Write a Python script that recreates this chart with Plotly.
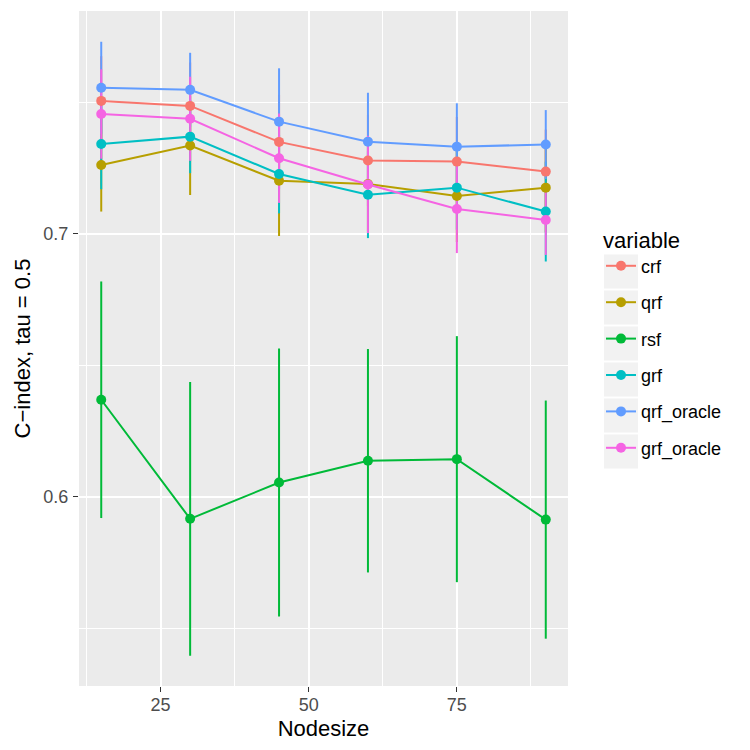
import plotly.graph_objects as go

nodesize = [15, 30, 45, 60, 75, 90]
methods = ["crf", "qrf", "rsf", "grf", "qrf_oracle", "grf_oracle"]
colors = ["#F8766D", "#B79F00", "#00BA38", "#00BFC4", "#619CFF", "#F564E3"]

crf_mean = [0.7506, 0.7487, 0.7350, 0.7279, 0.7275, 0.7237]
crf_sd = [0.0170, 0.0165, 0.0180, 0.0175, 0.0170, 0.0160]
qrf_mean = [0.7262, 0.7336, 0.7202, 0.7190, 0.7144, 0.7176]
qrf_sd = [0.0177, 0.0188, 0.0210, 0.0180, 0.0175, 0.0170]
rsf_mean = [0.6369, 0.5916, 0.6054, 0.6137, 0.6143, 0.5913]
rsf_sd = [0.0450, 0.0521, 0.0510, 0.0425, 0.0468, 0.0453]
grf_mean = [0.7342, 0.7370, 0.7228, 0.7149, 0.7176, 0.7085]
grf_sd = [0.0172, 0.0139, 0.0150, 0.0165, 0.0160, 0.0190]
qrf_oracle_mean = [0.7556, 0.7548, 0.7427, 0.7351, 0.7332, 0.7340]
qrf_oracle_sd = [0.0175, 0.0141, 0.0203, 0.0186, 0.0165, 0.0131]
grf_oracle_mean = [0.7456, 0.7438, 0.7288, 0.7188, 0.7095, 0.7053]
grf_oracle_sd = [0.0170, 0.0160, 0.0170, 0.0185, 0.0168, 0.0133]

means = [crf_mean, qrf_mean, rsf_mean, grf_mean, qrf_oracle_mean, grf_oracle_mean]
sds = [crf_sd, qrf_sd, rsf_sd, grf_sd, qrf_oracle_sd, grf_oracle_sd]

fig = go.Figure()

# error bars first (drawn below lines and points)
for m, c, mu, sd in zip(methods, colors, means, sds):
    fig.add_trace(go.Scatter(
        x=nodesize, y=mu, mode="markers",
        marker=dict(size=1, opacity=0, color=c),
        error_y=dict(type="data", array=sd, visible=True, color=c,
                     thickness=2, width=0),
        showlegend=False, hoverinfo="skip"))

for m, c, mu in zip(methods, colors, means):
    fig.add_trace(go.Scatter(
        x=nodesize, y=mu, mode="lines+markers", name=m, legendgroup=m,
        line=dict(color=c, width=2),
        marker=dict(color=c, size=10)))

W, H = 750, 750
L, R, T, B = 79, 568, 11, 686

def py(v):
    return (B - v) / (B - T)

def px(v):
    return (v - L) / (R - L)

shapes = []
for i in range(6):
    cy = 271.5 + 36 * i
    shapes.append(dict(type="rect", xref="paper", yref="paper",
                       x0=px(604), x1=px(638), y0=py(cy + 17), y1=py(cy - 17),
                       fillcolor="#F2F2F2", line=dict(width=0), layer="below"))

fig.update_layout(
    width=W, height=H,
    margin=dict(l=L, r=W - R, t=T, b=H - B, autoexpand=False),
    paper_bgcolor="white",
    plot_bgcolor="#EBEBEB",
    font=dict(family="Liberation Sans, Arial, sans-serif", color="black"),
    shapes=shapes,
    showlegend=True,
    legend=dict(
        title=dict(text="variable", font=dict(size=22, color="black")),
        font=dict(size=18, color="black"),
        x=px(601), xanchor="left", y=py(219), yanchor="top",
        bgcolor="rgba(0,0,0,0)", tracegroupgap=10, itemwidth=30,
    ),
    xaxis=dict(
        range=[11.25, 93.75], tickvals=[25, 50, 75], automargin=False,
        showgrid=True, gridcolor="white", gridwidth=1.5,
        minor=dict(tickvals=[12.5, 37.5, 62.5, 87.5], showgrid=True,
                   gridcolor="white", gridwidth=0.7),
        ticks="outside", ticklen=5, tickwidth=1, tickcolor="#333333",
        tickfont=dict(size=18, color="#4D4D4D"), ticklabelstandoff=-3,
        title=dict(text="Nodesize", font=dict(size=22, color="black"), standoff=7),
        zeroline=False, showline=False,
    ),
    yaxis=dict(
        range=[0.528, 0.7848], tickvals=[0.6, 0.7], ticktext=["0.6", "0.7"],
        automargin=False,
        showgrid=True, gridcolor="white", gridwidth=1.5,
        minor=dict(tickvals=[0.55, 0.65, 0.75], showgrid=True,
                   gridcolor="white", gridwidth=0.7),
        ticks="outside", ticklen=5, tickwidth=1, tickcolor="#333333",
        tickfont=dict(size=18, color="#4D4D4D"), ticklabelstandoff=1,
        title=dict(text="C\u2212index, tau = 0.5", font=dict(size=22, color="black"), standoff=6),
        zeroline=False, showline=False,
    ),
)

fig.write_html("out.html")
